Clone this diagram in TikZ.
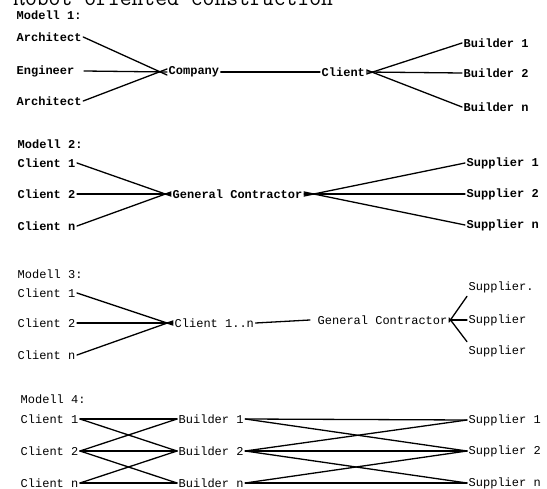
\documentclass[tikz,border=0pt]{standalone}
\usepackage{fontspec}
\setmonofont{Liberation Mono}
\usetikzlibrary{positioning}
\tikzset{
  party/.style={anchor=west, inner sep=1.5pt, font=\ttfamily\fontsize{12}{14}\selectfont},
  bparty/.style={party, font=\ttfamily\bfseries\fontsize{12}{14}\selectfont},
  modell/.style={bparty},
  link/.style={line width=1.3pt, line cap=round}
}

\begin{document}
\begin{tikzpicture}[x=1pt,y=-1pt]
\useasboundingbox (0,0) rectangle (547,489);
\node[anchor=base west, inner sep=0, font=\fontfamily{lmtt}\fontsize{23}{23}\selectfont] (title) at (13,6) {Robot-oriented construction};

% Modell 1
\node[modell] (m1) at (15,15) {Modell 1:};
\node[bparty] (arch1) at (15,37) {Architect};
\node[bparty] (eng) at (15,71) {Engineer};
\node[bparty] (arch2) at (15,101) {Architect};
\node[bparty] (company) at (167,72) {Company};
\node[bparty] (client) at (320,72) {Client};
\node[bparty] (bld1) at (462,43) {Builder 1};
\node[bparty] (bld2) at (462,73) {Builder 2};
\node[bparty] (bldn) at (462,107) {Builder n};
\draw[link] (arch1.east) -- ([yshift=-3]company.west);
\draw[link] ([xshift=8]eng.east) -- (company.west);
\draw[link] (arch2.east) -- ([yshift=3]company.west);
\draw[link] (company.east) -- (client.west);
\draw[link] ([yshift=-2]client.east) -- (bld1.west);
\draw[link] (client.east) -- (bld2.west);
\draw[link] ([yshift=2]client.east) -- (bldn.west);

% Modell 2
\node[modell] (m2) at (16,144) {Modell 2:};
\node[bparty] (c21) at (16,163) {Client 1};
\node[bparty] (c22) at (16,194) {Client 2};
\node[bparty] (c2n) at (16,226) {Client n};
\node[bparty] (gc2) at (171,194) {General Contractor};
\node[bparty] (s21) at (465,163) {Supplier 1};
\node[bparty] (s22) at (465,194) {Supplier 2};
\node[bparty] (s2n) at (465,225) {Supplier n};
\draw[link] (c21.east) -- ([yshift=-2]gc2.west);
\draw[link] (c22.east) -- (gc2.west);
\draw[link] (c2n.east) -- ([yshift=2]gc2.west);
\draw[link] ([yshift=-2]gc2.east) -- (s21.west);
\draw[link] (gc2.east) -- (s22.west);
\draw[link] ([yshift=2]gc2.east) -- (s2n.west);

% Modell 3
\node[party] (m3) at (16,274) {Modell 3:};
\node[party] (c31) at (16,293) {Client 1};
\node[party] (c32) at (16,323) {Client 2};
\node[party] (c3n) at (16,355) {Client n};
\node[party] (cl3) at (173,323) {Client 1..n};
\node[party] (gc3) at (316,320) {General Contractor};
\node[party] (s31) at (467,287) {Supplier.};
\node[party] (s32) at (467,320) {Supplier};
\node[party] (s3n) at (467,351) {Supplier};
\draw[link] (c31.east) -- ([yshift=-2]cl3.west);
\draw[link] (c32.east) -- (cl3.west);
\draw[link] (c3n.east) -- ([yshift=2]cl3.west);
\draw[link] (cl3.east) -- ([xshift=-6]gc3.west);
\draw[link] ([yshift=-2]gc3.east) -- ([yshift=-2]s31.south west);
\draw[link] (gc3.east) -- (s32.west);
\draw[link] ([yshift=2]gc3.east) -- ([yshift=2]s3n.north west);

% Modell 4
\node[party] (m4) at (19,399) {Modell 4:};
\node[party] (c41) at (19,419) {Client 1};
\node[party] (c42) at (19,451) {Client 2};
\node[party] (c4n) at (19,483) {Client n};
\node[party] (b41) at (177,419) {Builder 1};
\node[party] (b42) at (177,451) {Builder 2};
\node[party] (b4n) at (177,483) {Builder n};
\node[party] (s41) at (467,420) {Supplier 1};
\node[party] (s42) at (467,451) {Supplier 2};
\node[party] (s4n) at (467,483) {Supplier n};
\foreach \a/\b in {c41/b41, c41/b42, c42/b41, c42/b42, c42/b4n, c4n/b42, c4n/b4n,
                   b41/s41, b41/s42, b42/s41, b42/s42, b42/s4n, b4n/s42, b4n/s4n}
  \draw[link] (\a.east) -- (\b.west);
\end{tikzpicture}
\end{document}
